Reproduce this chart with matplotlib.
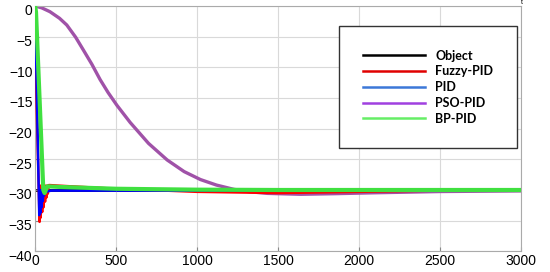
import matplotlib
matplotlib.use("Agg")
import matplotlib.pyplot as plt
import matplotlib.transforms as mtransforms
from matplotlib.lines import Line2D

plt.rcParams["font.family"] = ["Liberation Sans", "DejaVu Sans"]

# time axis and responses
obj_t = [0, 3000]
obj_y = [-30, -30]

fuzzy_t = [0, 8, 27, 30, 34, 38, 43, 47, 52, 56, 61, 65, 70, 74, 78, 84, 90, 150, 500, 1000, 1500, 2000, 2500, 3000]
fuzzy_y = [0, -15, -35.2, -29.3, -34.5, -29.3, -33.6, -29.3, -32.8, -29.3, -31.9, -29.3, -31.2, -29.3, -30.6, -29.2, -29.2, -29.3, -29.8, -30.3, -30.5, -30.3, -30.1, -30.1]

pid_t = [0, 3, 25, 29, 33, 37, 40, 44, 47, 50, 54, 58, 62, 100, 500, 1000, 3000]
pid_y = [0, -5, -34.1, -30, -33.7, -30, -32.8, -30, -31.8, -30, -30.9, -30, -30.3, -30.1, -30.1, -30.1, -30.1]

pso_t = [0, 40, 91, 150, 195, 250, 298, 350, 401, 450, 505, 587, 700, 815, 920, 1021, 1120, 1228, 1330, 1434, 1640, 1850, 2100, 2500, 3000]
pso_y = [0, -0.3, -0.93, -2.0, -3.1, -5.1, -7.2, -9.5, -12.0, -14.1, -16.2, -19.0, -22.4, -25.1, -27.0, -28.3, -29.2, -29.9, -30.3, -30.55, -30.7, -30.6, -30.45, -30.25, -30.15]

bp_t = [0, 5, 50, 58, 75, 150, 500, 1000, 1500, 2000, 3000]
bp_y = [0, -1, -30, -30.5, -29.4, -29.5, -29.8, -29.95, -30.0, -30.0, -30.0]

labels = ["Object", "Fuzzy-PID", "PID", "PSO-PID", "BP-PID"]
legend_colors = ["#000000", "#e00000", "#3c78d8", "#a040e0", "#66ee66"]

fig = plt.figure(figsize=(5.5, 2.72), dpi=100)
ax = fig.add_axes([0.064, 0.076, 0.883, 0.902])

ax.plot(obj_t, obj_y, color="black", lw=2, zorder=1)
ax.plot(pso_t, pso_y, color="#a052a8", lw=2.4, zorder=2)
ax.plot(fuzzy_t, fuzzy_y, color="#ff0000", lw=1.8, zorder=3)
ax.plot(pid_t, pid_y, color="#0000ff", lw=1.8, zorder=4)
ax.plot(bp_t, bp_y, color="#40e040", lw=3, zorder=5)

ax.set_xlim(0, 3000)
ax.set_ylim(-40, 0)
ax.set_xticks(range(0, 3001, 500))
ax.set_yticks(range(-40, 1, 5))
ax.set_yticklabels([str(v).replace("-", "\u2212") for v in range(-40, 1, 5)])
ax.grid(True, color="#d9d9d9", lw=0.8)
ax.tick_params(direction="in", length=3, labelsize=10, color="#888888", pad=2)
for s in ax.spines.values():
    s.set_color("#aaaaaa")
    s.set_linewidth(0.8)

# y labels sit a few pixels below their grid lines in the original
shift = mtransforms.ScaledTranslation(0, -4 / 100, fig.dpi_scale_trans)
for lab in ax.get_yticklabels():
    lab.set_transform(lab.get_transform() + shift)

handles = [Line2D([], [], color=c, lw=1.8) for c in legend_colors]
leg = ax.legend(handles, labels, loc="center", bbox_to_anchor=(0.8085, 0.669),
                prop={"family": "Lato", "weight": "bold", "size": 9},
                handlelength=5, borderpad=1.9, labelspacing=0.3,
                fancybox=False, framealpha=1, edgecolor="#333333")
leg.get_frame().set_linewidth(1)

ax.text(1.0, 1.0, "t", transform=ax.transAxes, fontsize=5, ha="left", va="bottom")

fig.savefig("out.png", dpi=100)
